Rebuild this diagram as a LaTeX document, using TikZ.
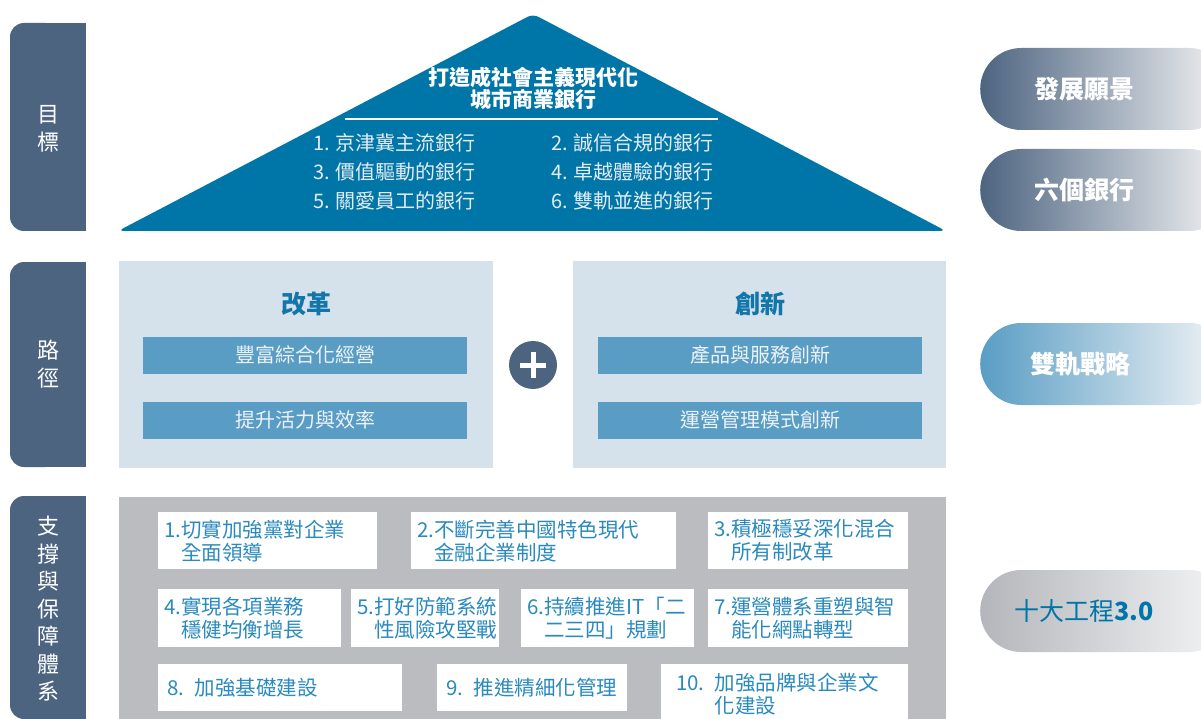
\documentclass[tikz,border=0pt]{standalone}
\usepackage{fontspec}
\setmainfont{Noto Sans CJK TC}
\usetikzlibrary{positioning}

\definecolor{slate}{RGB}{77,100,128}
\definecolor{roofblue}{RGB}{0,118,168}
\definecolor{roofwhite}{RGB}{228,236,243}
\definecolor{paleblue}{RGB}{213,226,236}
\definecolor{barblue}{RGB}{89,157,196}
\definecolor{barwhite}{RGB}{236,242,247}
\definecolor{titleblue}{RGB}{18,118,170}
\definecolor{basegrey}{RGB}{186,188,192}
\definecolor{itemblue}{RGB}{42,138,190}
\definecolor{pillend}{RGB}{244,245,246}
\definecolor{pillgrey}{RGB}{180,182,187}

\begin{document}
\begin{tikzpicture}[x=1pt,y=-1pt,
  tab/.style={fill=slate, rounded corners=14pt},
  tabtext/.style={text=white, align=center, font=\fontsize{22}{27.5}\selectfont},
  pill/.style={rounded corners=41pt, minimum height=82pt, anchor=west, inner ysep=0pt,
    align=left, font=\fontsize{25}{28}\selectfont\bfseries},
  banktext/.style={anchor=west, inner sep=0pt, text=roofwhite, font=\fontsize{20}{24}\selectfont},
  bar/.style={fill=barblue, minimum width=324pt, minimum height=37pt, inner sep=0pt,
    text=barwhite, font=\fontsize{20}{24}\selectfont},
  pathtitle/.style={text=titleblue, font=\fontsize{25}{28}\selectfont\bfseries},
  item/.style={fill=white, anchor=north west, inner xsep=6pt, inner ysep=0pt, align=left,
    text=itemblue, font=\fontsize{20.5}{23}\selectfont}
]
\clip (0,0) rectangle (1201,719);
\useasboundingbox (0,0) rectangle (1201,719);

\fill[tab] (10,23) rectangle (60,231);
\fill[slate] (40,23) rectangle (86,231);
\node[tabtext] (goal) at (48,129) {目\\標};

\fill[tab] (10,262) rectangle (60,467);
\fill[slate] (40,262) rectangle (86,467);
\node[tabtext] (route) at (48,364) {路\\徑};

\fill[tab] (10,496) rectangle (60,719);
\fill[slate] (40,496) rectangle (86,719);
\node[tabtext] (support) at (48,609) {支\\撐\\與\\保\\障\\體\\系};

\fill[roofblue, rounded corners=6pt] (118,231) -- (533,14) -- (946,231) -- cycle;
\node[text=white, align=center, font=\fontsize{21}{22}\selectfont\bfseries] (aim) at (533,88)
  {打造成社會主義現代化\\城市商業銀行};
\draw[white, line width=2pt] (345,119) -- (718,119);

\foreach \t [count=\i] in {1. 京津冀主流銀行, 3. 價值驅動的銀行, 5. 關愛員工的銀行}
  \node[banktext] (bankL\i) at (313,{114+29*\i}) {\t};
\foreach \t [count=\i] in {2. 誠信合規的銀行, 4. 卓越體驗的銀行, 6. 雙軌並進的銀行}
  \node[banktext] (bankR\i) at (551,{114+29*\i}) {\t};

\fill[paleblue] (119,261) rectangle (493,468);
\fill[paleblue] (573,261) rectangle (946,468);

\node[pathtitle] (reform) at (306,304) {改革};
\node[bar] (reformA) at (305,355) {豐富綜合化經營};
\node[bar] (reformB) at (305,420) {提升活力與效率};

\node[pathtitle] (innov) at (760,304) {創新};
\node[bar] (innovA) at (760,355) {產品與服務創新};
\node[bar] (innovB) at (760,420) {運營管理模式創新};

\node[circle, fill=slate, minimum size=48pt, inner sep=0pt] (plus) at (533,365) {};
\draw[white, line width=5pt] ([xshift=-13pt]plus.center) -- ([xshift=13pt]plus.center);
\draw[white, line width=5pt] ([yshift=-13pt]plus.center) -- ([yshift=13pt]plus.center);

\fill[basegrey] (119,497) rectangle (946,725);

\node[item, text width=207pt, minimum height=57pt] (work1) at (158,512)
  {1.切實加強黨對企業\\\phantom{1.}全面領導};
\node[item, text width=253pt, minimum height=57pt] (work2) at (411,512)
  {2.不斷完善中國特色現代\\\phantom{2.}金融企業制度};
\node[item, text width=188pt, minimum height=57pt] (work3) at (708,512)
  {3.積極穩妥深化混合\\\phantom{3.}所有制改革};

\node[item, text width=171pt, minimum height=58pt] (work4) at (158,589)
  {4.實現各項業務\\\phantom{4.}穩健均衡增長};
\node[item, text width=136pt, minimum height=58pt] (work5) at (351,589)
  {5.打好防範系統\\\phantom{5.}性風險攻堅戰};
\node[item, text width=161pt, minimum height=58pt] (work6) at (521,589)
  {6.持續推進IT「二\\\phantom{6.}二三四」規劃};
\node[item, text width=188pt, minimum height=58pt] (work7) at (708,589)
  {7.運營體系重塑與智\\\phantom{7.}能化網點轉型};

\node[item, inner xsep=9pt, text width=226pt, minimum height=47pt] (work8) at (158,664)
  {8. 加強基礎建設};
\node[item, inner xsep=9pt, text width=172pt, minimum height=47pt] (work9) at (437,664)
  {9. 推進精細化管理};
\node[item, inner xsep=15pt, text width=217pt, minimum height=60pt] (work10) at (661,664)
  {10. 加強品牌與企業文\\\phantom{10. }化建設};

\node[pill, left color=slate, right color=pillend, text=white, inner xsep=54pt, text width=142pt]
  (vision) at (980,89) {發展願景};
\node[pill, left color=slate, right color=pillend, text=white, inner xsep=54pt, text width=142pt]
  (sixbanks) at (980,190) {六個銀行};
\node[pill, left color=barblue, right color=pillend, text=white, inner xsep=50pt, text width=150pt]
  (dualtrack) at (980,364) {雙軌戰略};
\node[pill, left color=pillgrey, right color=pillend, text=roofblue, inner xsep=34pt, text width=182pt]
  (tenworks) at (980,611) {{\mdseries 十大工程}3.0};

\end{tikzpicture}
\end{document}
